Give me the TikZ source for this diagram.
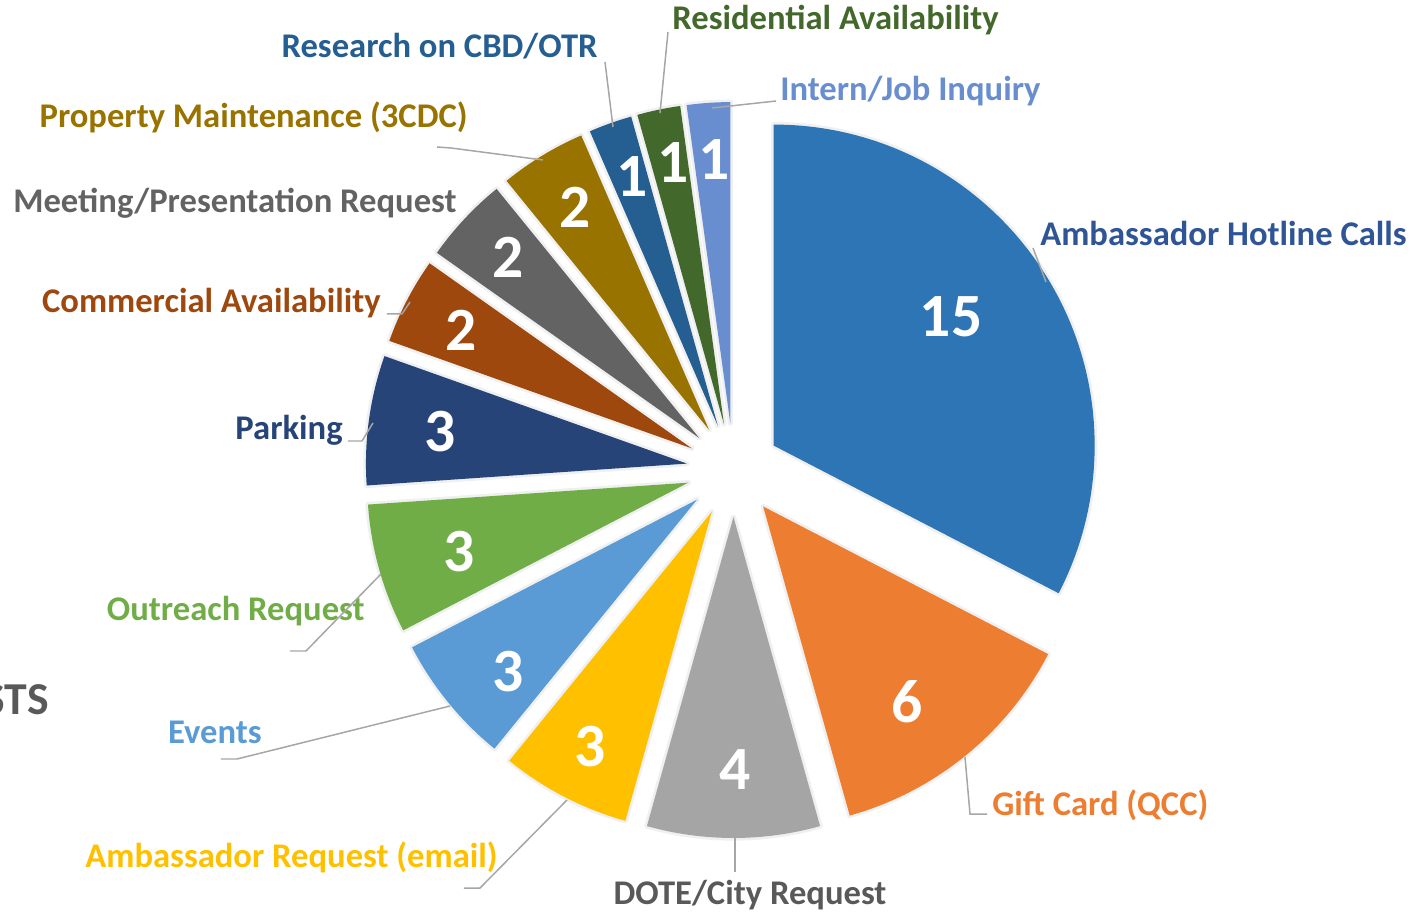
\documentclass[tikz,border=0pt]{standalone}
\usepackage{fontspec}
\setmainfont{Carlito}
\definecolor{hotline}{HTML}{2E75B6}
\definecolor{hotlinetext}{HTML}{2F5597}
\definecolor{giftcard}{HTML}{ED7D31}
\definecolor{dote}{HTML}{A5A5A5}
\definecolor{dotetext}{HTML}{595959}
\definecolor{ambreq}{HTML}{FFC000}
\definecolor{events}{HTML}{5B9BD5}
\definecolor{outreach}{HTML}{70AD47}
\definecolor{parking}{HTML}{264478}
\definecolor{commercial}{HTML}{9E480E}
\definecolor{meeting}{HTML}{636363}
\definecolor{property}{HTML}{997300}
\definecolor{research}{HTML}{255E91}
\definecolor{residential}{HTML}{43682B}
\definecolor{intern}{HTML}{698ED0}
\definecolor{leadgray}{HTML}{A6A6A6}
% one exploded slice: colour, start angle, end angle
\newcommand\pieslice[3]{%
  \draw[black!6, line width=3pt, line join=round] ({(#2+#3)/2}:47) -- +(#2:321)
    arc[start angle=#2, end angle=#3, radius=321] -- cycle;
  \fill[#1] ({(#2+#3)/2}:47) -- +(#2:321)
    arc[start angle=#2, end angle=#3, radius=321] -- cycle;}

\begin{document}
\begin{tikzpicture}[x=0.02cm, y=0.02cm]
  \tikzstyle{lbl}=[font=\bfseries\fontsize{19.7}{22}\selectfont, inner sep=0pt]
  \tikzstyle{num}=[font=\bfseries\fontsize{35}{38}\selectfont, text=white, inner sep=0pt]
  \tikzstyle{lead}=[draw=leadgray, line width=0.85pt]
  \useasboundingbox (-733.5,-442) rectangle (685.5,470);

  % slices, clockwise from the top
  \pieslice{hotline}{90}{-27.39}
  \pieslice{giftcard}{-27.39}{-74.35}
  \pieslice{dote}{-74.35}{-105.65}
  \pieslice{ambreq}{-105.65}{-129.13}
  \pieslice{events}{-129.13}{-152.61}
  \pieslice{outreach}{-152.61}{-176.09}
  \pieslice{parking}{-176.09}{-199.57}
  \pieslice{commercial}{-199.57}{-215.22}
  \pieslice{meeting}{-215.22}{-230.87}
  \pieslice{property}{-230.87}{-246.52}
  \pieslice{research}{-246.52}{-254.35}
  \pieslice{residential}{-254.35}{-262.17}
  \pieslice{intern}{-262.17}{-270}

  % values
  \node[num] (n-hotline) at (217.5,153) {15};
  \node[num] (n-giftcard) at (173.5,-232) {6};
  \node[num] (n-dote) at (1.5,-300) {4};
  \node[num] (n-ambreq) at (-143.5,-277) {3};
  \node[num] (n-events) at (-225.5,-202) {3};
  \node[num] (n-outreach) at (-274.5,-82) {3};
  \node[num] (n-parking) at (-293.5,38) {3};
  \node[num] (n-commercial) at (-272.5,140) {2};
  \node[num] (n-meeting) at (-225.5,213) {2};
  \node[num] (n-property) at (-158.5,263) {2};
  \node[num] (n-research) at (-101.5,293) {1};
  \node[num] (n-residential) at (-60.5,307) {1};
  \node[num] (n-intern) at (-19.5,310) {1};

  % category labels
  \node[lbl, text=hotlinetext, anchor=base west] (hotline) at (306.5,224) {Ambassador Hotline Calls};
  \node[lbl, text=giftcard, anchor=base west] (giftcard) at (258.5,-345) {Gift Card (QCC)};
  \node[lbl, text=dotetext, anchor=base] (dote) at (16.5,-434) {DOTE/City Request};
  \node[lbl, text=ambreq, anchor=base east] (ambreq) at (-235.5,-397) {Ambassador Request (email)};
  \node[lbl, text=events, anchor=base east] (events) at (-471.5,-273) {Events};
  \node[lbl, text=outreach, anchor=base east] (outreach) at (-368.5,-150) {Outreach Request};
  \node[lbl, text=parking, anchor=base east] (parking) at (-390.5,30) {Parking};
  \node[lbl, text=commercial, anchor=base east] (commercial) at (-352.5,157) {Commercial Availability};
  \node[lbl, text=meeting, anchor=base east] (meeting) at (-276.5,257) {Meeting/Presentation Request};
  \node[lbl, text=property, anchor=base east] (property) at (-265.5,342) {Property Maintenance (3CDC)};
  \node[lbl, text=research, anchor=base east] (research) at (-135.5,412) {Research on CBD/OTR};
  \node[lbl, text=residential, anchor=base west] (residential) at (-61.5,440) {Residential Availability};
  \node[lbl, text=intern, anchor=base west] (intern) at (46.5,369) {Intern/Job Inquiry};
  \node[font=\bfseries\fontsize{26}{28}\selectfont, text=dotetext, inner sep=0pt, anchor=base east] (title) at (-684.5,-244) {STS};

  % where the leader lines meet the slices
  \coordinate (hotline tip) at (312.5,188);
  \coordinate (giftcard tip) at (231.5,-287);
  \coordinate (dote tip) at (1.5,-367);
  \coordinate (ambreq tip) at (-166.5,-330);
  \coordinate (events tip) at (-283.5,-236);
  \coordinate (outreach tip) at (-352.5,-104);
  \coordinate (parking tip) at (-360.5,47);
  \coordinate (commercial tip) at (-323.5,168);
  \coordinate (property tip) at (-190.5,310);
  \coordinate (research tip) at (-120.5,343);
  \coordinate (residential tip) at (-73.5,357);
  \coordinate (intern tip) at (-21.5,362);

  % leader lines
  \draw[lead] (hotline.base west) ++(-7,-2) -- (hotline tip);
  \draw[lead] (giftcard.base west) ++(-5,1) -- ++(-17,0) -- (giftcard tip);
  \draw[lead] (dote tip) -- ++(0,-35);
  \draw[lead] (ambreq.base east) ++(-34,-21) -- ++(16,0) -- (ambreq tip);
  \draw[lead] (events.base east) ++(-41,-16) -- ++(16,0) -- (events tip);
  \draw[lead] (outreach.base east) ++(-75,-31) -- ++(16,0) -- (outreach tip);
  \draw[lead] (parking.base east) ++(5,-1) -- ++(14,0) -- (parking tip);
  \draw[lead] (commercial.base east) ++(6,-1) -- ++(15,0) -- (commercial tip);
  \draw[lead] (property.base east) ++(-31,-19) -- ++(14,-1) -- (property tip);
  \draw[lead] (research.base east) ++(7,-4) -- (research tip);
  \draw[lead] (residential.base west) ++(-4,-2) -- (residential tip);
  \draw[lead] (intern.base west) ++(-4,0) -- (intern tip);
\end{tikzpicture}
\end{document}
